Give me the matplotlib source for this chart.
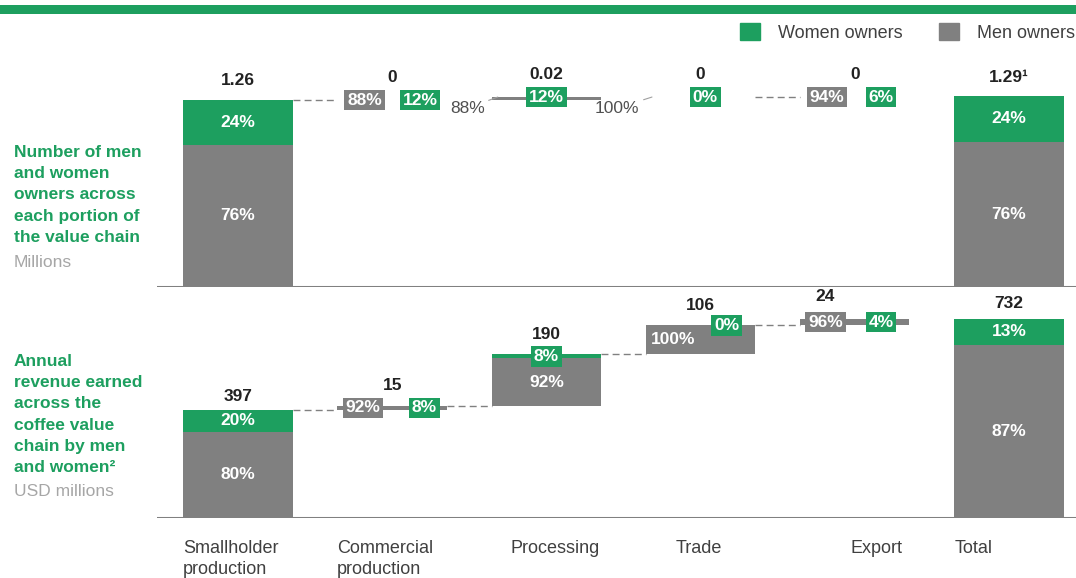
"""Cadena de valor del café: propietarios e ingresos por género (waterfall)"""

import numpy as np
import matplotlib.pyplot as plt
from matplotlib.patches import Patch, Rectangle
from matplotlib.transforms import blended_transform_factory

plt.rcParams['font.family'] = ['Liberation Sans', 'DejaVu Sans']

categories = ["Smallholder\nproduction", "Commercial\nproduction", "Processing",
              "Trade", "Export", "Total"]

# numero de propietarios (millones)
owners_total = [1.26, 0, 0.02, 0, 0, 1.29]
owners_women = [24, 12, 12, 0, 6, 24]
owners_men = [76, 88, 88, 100, 94, 76]
owners_labels = ["1.26", "0", "0.02", "0", "0", "1.29\u00b9"]

# ingresos anuales (USD millones)
revenue_total = [397, 15, 190, 106, 24, 732]
revenue_women = [20, 8, 8, 0, 4, 13]
revenue_men = [80, 92, 92, 100, 96, 87]
revenue_labels = ["397", "15", "190", "106", "24", "732"]

GREEN = "#1d9f5f"
GREY = "#808080"
DARK = "#222222"
W = 0.71

fig = plt.figure(figsize=(10.76, 5.78), dpi=100)

# banda verde superior
fig.add_artist(Rectangle((0, 1 - 14 / 578), 1, 9 / 578, transform=fig.transFigure,
                         color=GREEN, lw=0))

ax1 = fig.add_axes([157 / 1076, 1 - 287 / 578, 919 / 1076, 227 / 578])
ax2 = fig.add_axes([157 / 1076, 1 - 518 / 578, 919 / 1076, 223 / 578])
ax1.set_ylim(0, 227 / 148.4)
ax2.set_ylim(0, 223 / 0.272)

x = np.arange(len(categories))


def waterfall(ax, totals, women, men):
    """Dibuja las barras apiladas y devuelve bases y topes"""
    totals = np.array(totals, dtype=float)
    base = np.concatenate([[0], np.cumsum(totals[:-1])])
    base[-1] = 0
    men_h = totals * np.array(men) / 100
    women_h = totals * np.array(women) / 100
    ax.bar(x, men_h, W, bottom=base, color=GREY, lw=0)
    ax.bar(x, women_h, W, bottom=base + men_h, color=GREEN, lw=0)
    ax.set_xlim(-0.525, 5.435)
    ax.axis('off')
    ax.axhline(0, color=GREY, lw=2.2)
    return base, base + totals, men_h


def box(ax, xx, yy, s, color):
    ax.text(xx, yy, s, ha='center', va='center', color='white', fontsize=12.5,
            fontweight='bold', zorder=6,
            bbox=dict(boxstyle='square,pad=0.16', fc=color, ec='none'))


def inner(ax, xx, yy, s):
    ax.text(xx, yy, s, ha='center', va='center', color='white', fontsize=12.5,
            fontweight='bold', zorder=6)


def value(ax, xx, yy, s, dy):
    ax.annotate(s, (xx, yy), xytext=(0, dy), textcoords='offset points',
                ha='center', va='center', fontsize=12.5, fontweight='bold', color=DARK)


def dashed(ax, x0, x1, yy):
    ax.plot([x0, x1], [yy, yy], color=GREY, lw=1, ls=(0, (5, 3)), zorder=1)


# ---- panel superior ----
b1, t1, m1 = waterfall(ax1, owners_total, owners_women, owners_men)
for i in (0, 5):
    inner(ax1, x[i], b1[i] + m1[i] + (t1[i] - b1[i] - m1[i]) / 2, f"{owners_women[i]}%")
    inner(ax1, x[i], b1[i] + m1[i] / 2, f"{owners_men[i]}%")
value(ax1, x[0], t1[0], owners_labels[0], 14)
value(ax1, x[5], t1[5], owners_labels[5], 13)
for i in (1, 2, 3, 4):
    value(ax1, x[i], t1[i], owners_labels[i], 16)

dashed(ax1, x[0] + W / 2, x[1] - W / 2, t1[0])
dashed(ax1, x[3] + W / 2, x[4] - W / 2, t1[3])

box(ax1, x[1] - 0.18, t1[1], f"{owners_men[1]}%", GREY)
box(ax1, x[1] + 0.18, t1[1], f"{owners_women[1]}%", GREEN)
box(ax1, x[2], t1[2], f"{owners_women[2]}%", GREEN)
box(ax1, x[3] + 0.03, t1[3], f"{owners_women[3]}%", GREEN)
box(ax1, x[4] - 0.18, t1[4], f"{owners_men[4]}%", GREY)
box(ax1, x[4] + 0.17, t1[4], f"{owners_women[4]}%", GREEN)

for i, dx in ((2, -22), (3, -25)):
    ax1.annotate(f"{owners_men[i]}%", (x[i] - W / 2 + 0.04, t1[2]), xytext=(dx, -8),
                 textcoords='offset points', ha='center', va='center', fontsize=12.5,
                 color="#505050",
                 arrowprops=dict(arrowstyle='-', color="#a0a0a0", lw=0.8,
                                 shrinkA=1, shrinkB=0))

# ---- panel inferior ----
b2, t2, m2 = waterfall(ax2, revenue_total, revenue_women, revenue_men)
for i in (0, 5):
    inner(ax2, x[i], b2[i] + m2[i] + (t2[i] - b2[i] - m2[i]) / 2, f"{revenue_women[i]}%")
    inner(ax2, x[i], b2[i] + m2[i] / 2, f"{revenue_men[i]}%")
value(ax2, x[0], t2[0], revenue_labels[0], 10)
value(ax2, x[5], t2[5], revenue_labels[5], 11)
value(ax2, x[1], t2[1], revenue_labels[1], 15)
value(ax2, x[2], t2[2], revenue_labels[2], 14.5)
value(ax2, x[3], t2[3], revenue_labels[3], 14.5)
value(ax2, x[4] - 0.19, t2[4], revenue_labels[4], 16)

for i in range(4):
    dashed(ax2, x[i] + W / 2, x[i + 1] - W / 2, t2[i])

mid2 = (b2 + t2) / 2
box(ax2, x[1] - 0.19, mid2[1], f"{revenue_men[1]}%", GREY)
box(ax2, x[1] + 0.21, mid2[1], f"{revenue_women[1]}%", GREEN)
box(ax2, x[2], t2[2] - revenue_total[2] * revenue_women[2] / 200, f"{revenue_women[2]}%", GREEN)
inner(ax2, x[2], b2[2] + m2[2] / 2, f"{revenue_men[2]}%")
inner(ax2, x[3] - 0.18, mid2[3], f"{revenue_men[3]}%")
box(ax2, x[3] + 0.17, t2[3], f"{revenue_women[3]}%", GREEN)
box(ax2, x[4] - 0.19, mid2[4], f"{revenue_men[4]}%", GREY)
box(ax2, x[4] + 0.17, mid2[4], f"{revenue_women[4]}%", GREEN)

# etiquetas de categorias
label_dx = [-0.357, -0.36, -0.23, -0.16, -0.03, -0.35]
trans = blended_transform_factory(ax2.transData, ax2.transAxes)
for i, cat in enumerate(categories):
    ax2.text(x[i] + label_dx[i], -0.10, cat, transform=trans, ha='left', va='top',
             fontsize=13, color="#404040", linespacing=1.3)

# textos de la izquierda
fig.text(14 / 1076, 1 - 145 / 578,
         "Number of men\nand women\nowners across\neach portion of\nthe value chain",
         ha='left', va='top', fontsize=12.5, fontweight='bold', color=GREEN,
         linespacing=1.52)
fig.text(14 / 1076, 1 - 262 / 578, "Millions", ha='left', va='center',
         fontsize=12.5, color="#a6a6a6")
fig.text(14 / 1076, 1 - 354 / 578,
         "Annual\nrevenue earned\nacross the\ncoffee value\nchain by men\nand women\u00b2",
         ha='left', va='top', fontsize=12.5, fontweight='bold', color=GREEN,
         linespacing=1.52)
fig.text(14 / 1076, 1 - 492 / 578, "USD millions", ha='left', va='center',
         fontsize=12.5, color="#a6a6a6")

# leyenda
handles = [Patch(color=GREEN, label="Women owners"), Patch(color=GREY, label="Men owners")]
fig.legend(handles=handles, loc='upper right', bbox_to_anchor=(0.999, 1 - 23 / 578),
           ncol=2, frameon=False, fontsize=13, handlelength=1.1, handleheight=1.1,
           handletextpad=1.0, columnspacing=2.0, borderpad=0, borderaxespad=0,
           labelcolor="#404040")

fig.savefig("out.png", dpi=100)
